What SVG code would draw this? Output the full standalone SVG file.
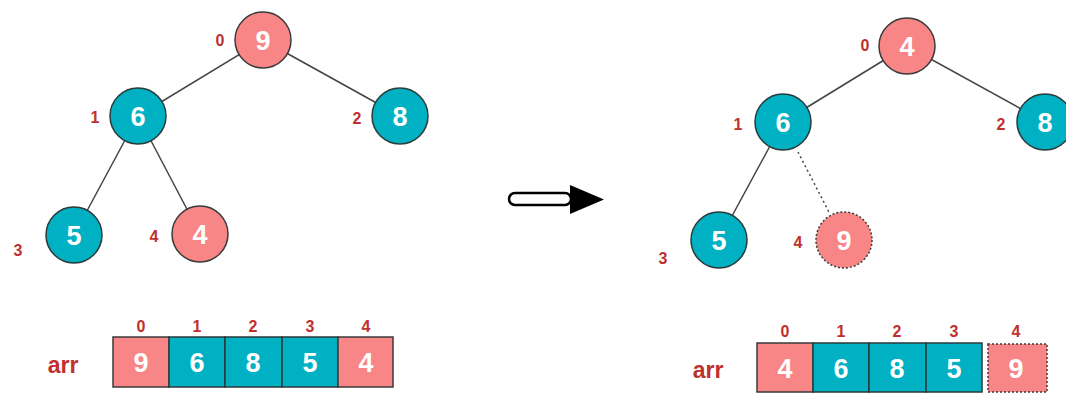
<svg xmlns="http://www.w3.org/2000/svg" width="1066" height="406" viewBox="0 0 1066 406">
<style>
.pink{fill:#F88686;stroke:#3a3a3a;stroke-width:1.5}
.teal{fill:#00B1C4;stroke:#2a3a3a;stroke-width:1.5}
.dash{stroke-dasharray:2 2}
.v{font-family:"Liberation Sans",Arial,sans-serif;font-weight:bold;font-size:27px;fill:#fff;text-anchor:middle}
.i{font-family:"Liberation Sans",Arial,sans-serif;font-weight:bold;font-size:16px;fill:#C0302E;text-anchor:middle}
.a{font-family:"Liberation Sans",Arial,sans-serif;font-weight:bold;font-size:23px;fill:#C0302E;text-anchor:middle}
.e{stroke:#444;stroke-width:1.5;fill:none}
</style>
<rect width="1066" height="406" fill="#fff"/>
<g id="connectors">
<line class="e" x1="263" y1="40" x2="138" y2="116"/>
<line class="e" x1="263" y1="40" x2="400" y2="116"/>
<line class="e" x1="138" y1="116" x2="74" y2="235"/>
<line class="e" x1="138" y1="116" x2="200" y2="234"/>
<line class="e" x1="907" y1="46" x2="783" y2="122"/>
<line class="e" x1="907" y1="46" x2="1045" y2="122"/>
<line class="e" x1="783" y1="122" x2="719" y2="240"/>
<line class="e" x1="798" y1="152" x2="830" y2="214" stroke-dasharray="2 3"/>
</g>
<g id="L9"><circle class="pink" cx="263" cy="40" r="28"/><text class="v" x="263" y="50">9</text><text class="i" x="220" y="46">0</text></g>
<g id="L6"><circle class="teal" cx="138" cy="116" r="28"/><text class="v" x="138" y="126">6</text><text class="i" x="95" y="123">1</text></g>
<g id="L8"><circle class="teal" cx="400" cy="116" r="28"/><text class="v" x="400" y="126">8</text><text class="i" x="357" y="124">2</text></g>
<g id="L5"><circle class="teal" cx="74" cy="235" r="28"/><text class="v" x="74" y="245">5</text><text class="i" x="18" y="256">3</text></g>
<g id="L4"><circle class="pink" cx="200" cy="234" r="28"/><text class="v" x="200" y="244">4</text><text class="i" x="154" y="242">4</text></g>
<g id="R4"><circle class="pink" cx="907" cy="46" r="28"/><text class="v" x="907" y="56">4</text><text class="i" x="865" y="51">0</text></g>
<g id="R6"><circle class="teal" cx="783" cy="122" r="28"/><text class="v" x="783" y="132">6</text><text class="i" x="738" y="130">1</text></g>
<g id="R8"><circle class="teal" cx="1045" cy="122" r="28"/><text class="v" x="1045" y="132">8</text><text class="i" x="1001" y="130">2</text></g>
<g id="R5"><circle class="teal" cx="719" cy="240" r="28"/><text class="v" x="719" y="250">5</text><text class="i" x="663" y="264">3</text></g>
<g id="R9"><circle class="pink dash" cx="844" cy="240" r="28"/><text class="v" x="844" y="250">9</text><text class="i" x="798" y="248">4</text></g>
<g id="arrow">
<rect x="509" y="193" width="62" height="12" rx="6" fill="#fff" stroke="#000" stroke-width="2.5"/>
<polygon points="570,185 604,199.5 570,214" fill="#000"/>
</g>
<g id="arrL">
<text class="a" x="63" y="373">arr</text>
<rect class="pink" x="113" y="337" width="56" height="50"/>
<rect class="teal" x="169" y="337" width="56" height="50"/>
<rect class="teal" x="225" y="337" width="57" height="50"/>
<rect class="teal" x="282" y="337" width="56" height="50"/>
<rect class="pink" x="338" y="337" width="55" height="50"/>
<text class="v" x="141" y="372">9</text><text class="v" x="197" y="372">6</text><text class="v" x="253" y="372">8</text><text class="v" x="310" y="372">5</text><text class="v" x="366" y="372">4</text>
<text class="i" x="141" y="332">0</text><text class="i" x="197" y="332">1</text><text class="i" x="253" y="332">2</text><text class="i" x="310" y="332">3</text><text class="i" x="366" y="332">4</text>
</g>
<g id="arrR">
<text class="a" x="708" y="378">arr</text>
<rect class="pink" x="757" y="343" width="56" height="49"/>
<rect class="teal" x="813" y="343" width="56" height="49"/>
<rect class="teal" x="869" y="343" width="57" height="49"/>
<rect class="teal" x="926" y="343" width="56" height="49"/>
<rect class="pink dash" x="988" y="344" width="59" height="48"/>
<text class="v" x="785" y="378">4</text><text class="v" x="841" y="378">6</text><text class="v" x="897" y="378">8</text><text class="v" x="954" y="378">5</text><text class="v" x="1016" y="378">9</text>
<text class="i" x="785" y="337">0</text><text class="i" x="841" y="337">1</text><text class="i" x="897" y="337">2</text><text class="i" x="954" y="337">3</text><text class="i" x="1016" y="337">4</text>
</g>
</svg>
